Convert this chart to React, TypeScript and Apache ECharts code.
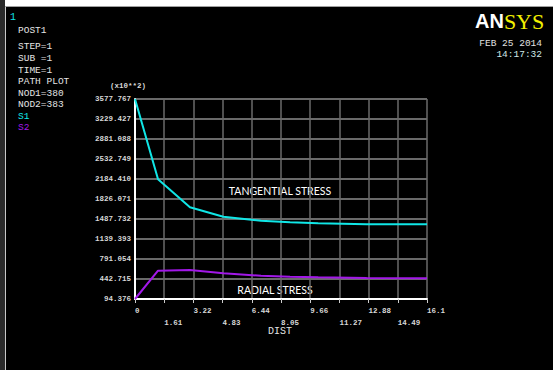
import React, { useEffect, useRef } from "react";
import * as echarts from "echarts";

const dist = [0, 1.27, 3.03, 4.87, 6.95, 8.55, 10.1, 12.77, 16.1];
const s1Tangential = [3577.767, 2179, 1691, 1528, 1458, 1430, 1413, 1395, 1395];
const s2Radial = [94.376, 587, 600, 542, 500, 483, 472, 460, 455];

const xTickLabels = ["0", "1.61", "3.22", "4.83", "6.44", "8.05", "9.66", "11.27", "12.88", "14.49", "16.1"];
const yTickLabels = ["94.376", "442.715", "791.054", "1139.393", "1487.732", "1826.071", "2184.410", "2532.749", "2881.088", "3229.427", "3577.767"];

const infoLines = ["POST1", "", "STEP=1", "SUB =1", "TIME=1", "PATH PLOT", "NOD1=380", "NOD2=383"];

const MONO = '"Liberation Mono", "DejaVu Sans Mono", monospace';
const CYAN = "#10e6e6";
const PURPLE = "#a218e8";

export default function App() {
  const ref = useRef<HTMLDivElement>(null);
  useEffect(() => {
    if (!ref.current) return;
    const chart = echarts.init(ref.current, null, { renderer: "svg" });
    const infoY = [30, 0, 46, 58, 70, 81, 93, 104];
    const graphics: any[] = [
      { type: "rect", shape: { x: 0, y: 0, width: 553, height: 6 }, style: { fill: "#ffffff" } },
      { type: "rect", shape: { x: 0, y: 0, width: 5, height: 370 }, style: { fill: "#2a2a2a" } },
      { type: "line", shape: { x1: 5.5, y1: 6, x2: 5.5, y2: 370 }, style: { stroke: "#c8c8c8", lineWidth: 1 } },
      { type: "line", shape: { x1: 5, y1: 6.5, x2: 553, y2: 6.5 }, style: { stroke: "#a0a0a0", lineWidth: 1 } },
      { type: "text", x: 10, y: 17, style: { text: "1", fill: CYAN, fontSize: 10, fontFamily: MONO, verticalAlign: "middle" } },
    ];
    infoLines.forEach((t, i) => {
      if (!t) return;
      graphics.push({ type: "text", x: 18, y: infoY[i], style: { text: t, fill: "#e4e4e4", fontSize: 9.5, fontFamily: MONO, verticalAlign: "middle" } });
    });
    graphics.push({ type: "text", x: 18, y: 116, style: { text: "S1", fill: CYAN, fontSize: 9.5, fontFamily: MONO, verticalAlign: "middle" } });
    graphics.push({ type: "text", x: 18, y: 127, style: { text: "S2", fill: PURPLE, fontSize: 9.5, fontFamily: MONO, verticalAlign: "middle" } });
    graphics.push({
      type: "text", x: 475, y: 21,
      style: {
        text: "{a|AN}{b|SYS}", verticalAlign: "middle",
        rich: {
          a: { fill: "#ffffff", fontSize: 20, fontWeight: "bold", fontFamily: '"Liberation Sans", Arial, sans-serif' },
          b: { fill: "#f2f000", fontSize: 22, fontFamily: '"Liberation Serif", serif' },
        },
      },
    });
    graphics.push({ type: "text", x: 542, y: 43, style: { text: "FEB 25 2014", fill: "#e0e0e0", fontSize: 9.5, fontFamily: MONO, align: "right", verticalAlign: "middle" } });
    graphics.push({ type: "text", x: 542, y: 54, style: { text: "14:17:32", fill: "#cfe8e8", fontSize: 9.5, fontFamily: MONO, align: "right", verticalAlign: "middle" } });
    graphics.push({ type: "text", x: 110, y: 86, style: { text: "(x10**2)", fill: "#d8d8d8", fontSize: 7.5, fontFamily: MONO, fontWeight: "bold", verticalAlign: "middle" } });
    graphics.push({ type: "text", x: 280, y: 331, style: { text: "DIST", fill: "#e4e4e4", fontSize: 10, fontFamily: MONO, align: "center", verticalAlign: "middle" } });
    graphics.push({ type: "text", x: 280, y: 191, style: { text: "TANGENTIAL STRESS", fill: "#ffffff", fontSize: 10.5, fontFamily: "Lato, 'Open Sans', sans-serif", align: "center", verticalAlign: "middle" } });
    graphics.push({ type: "text", x: 275, y: 290, style: { text: "RADIAL STRESS", fill: "#ffffff", fontSize: 10.5, fontFamily: "Lato, 'Open Sans', sans-serif", align: "center", verticalAlign: "middle" } });

    chart.setOption({
      animation: false,
      backgroundColor: "#000000",
      grid: { left: 135, top: 99, width: 292, height: 200, containLabel: false },
      xAxis: {
        type: "value",
        min: 0,
        max: 16.1,
        interval: 1.61,
        axisLine: { show: true, onZero: false, lineStyle: { color: "#ffffff", width: 2 } },
        axisTick: { show: true, length: 4, lineStyle: { color: "#cccccc" } },
        splitLine: { show: true, lineStyle: { color: "#6a6a6a", width: 1.5 } },
        axisLabel: {
          color: "#d8d8d8",
          fontSize: 7.5,
          fontFamily: MONO,
          fontWeight: "bold",
          align: "left",
          margin: 6,
          lineHeight: 12,
          formatter: (_v: number, i: number) => (i % 2 === 0 ? xTickLabels[i] : "\n" + xTickLabels[i]),
        },
      },
      yAxis: {
        type: "value",
        min: 94.376,
        max: 3577.767,
        interval: 348.3391,
        axisLine: { show: true, onZero: false, lineStyle: { color: "#ffffff", width: 2 } },
        axisTick: { show: false },
        splitLine: { show: true, lineStyle: { color: "#8c8c8c", width: 1.5 } },
        axisLabel: {
          color: "#d8d8d8",
          fontSize: 7.5,
          fontFamily: MONO,
          fontWeight: "bold",
          margin: 4,
          formatter: (_v: number, i: number) => yTickLabels[i] ?? "",
        },
      },
      series: [
        {
          name: "S1",
          type: "line",
          data: dist.map((d, i) => [d, s1Tangential[i]]),
          showSymbol: false,
          lineStyle: { color: CYAN, width: 2 },
          z: 5,
        },
        {
          name: "S2",
          type: "line",
          data: dist.map((d, i) => [d, s2Radial[i]]),
          showSymbol: false,
          lineStyle: { color: PURPLE, width: 2 },
          z: 5,
        },
      ],
      graphic: graphics,
    });
    return () => chart.dispose();
  }, []);
  return (
    <div style={{ position: "fixed", left: 0, top: 0, width: 553, height: 370, background: "#000" }}>
      <div ref={ref} style={{ width: 553, height: 370 }} />
    </div>
  );
}
